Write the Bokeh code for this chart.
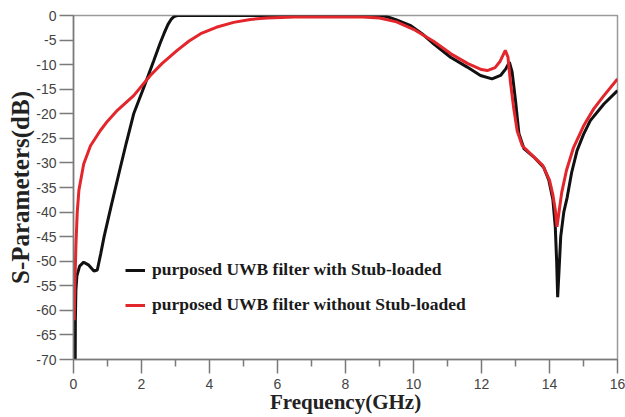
from bokeh.plotting import figure
from bokeh.models import Range1d, Legend, LegendItem, FixedTicker, Title, CustomJSTickFormatter
from bokeh.embed import file_html
from bokeh.resources import INLINE

# Black: purposed UWB filter with Stub-loaded
freq_with = [0.05, 0.055, 0.07, 0.1, 0.18, 0.3, 0.45, 0.6, 0.7, 0.8, 0.9, 1.0, 1.1, 1.33, 1.55, 1.77,
             2.07, 2.36, 2.55, 2.66, 2.78, 2.87, 2.96, 3.05, 4.0, 6.0, 8.0, 9.0, 9.2, 9.5, 9.9, 10.25,
             10.6, 11.09, 11.58, 11.97, 12.31, 12.56, 12.72, 12.82, 12.9, 13.0, 13.1, 13.25, 13.54,
             13.83, 13.98, 14.1, 14.17, 14.21, 14.24, 14.28, 14.33, 14.42, 14.52, 14.65, 14.81, 15.0,
             15.2, 15.6, 16.0]
db_with = [-70, -62, -56, -53, -51, -50.2, -50.8, -52, -51.8, -48.5, -45, -42, -39, -32.3, -26, -20,
           -14.6, -9.2, -5.6, -3.7, -1.8, -0.8, -0.2, 0, 0, 0, 0, 0, -0.2, -0.9, -2.0, -3.7,
           -5.8, -8.5, -10.5, -12.2, -12.9, -12.2, -10.8, -9.5, -11.5, -17.3, -24, -27.1, -28.8,
           -30.9, -33.5, -37.5, -43, -50, -57.3, -52, -45, -40, -37, -32, -27.5, -24.2,
           -21.4, -18, -15.3]

# Red: purposed UWB filter without Stub-loaded
freq_without = [0.02, 0.04, 0.07, 0.11, 0.16, 0.3, 0.5, 0.79, 1.0, 1.29, 1.77, 2.26, 2.6, 3.05, 3.4,
                3.74, 4.2, 4.71, 5.2, 5.7, 6.5, 8.5, 9.0, 9.5, 10.0, 10.6, 11.1, 11.6, 12.0, 12.17,
                12.4, 12.55, 12.7, 12.78, 12.85, 12.95, 13.05, 13.2, 13.5, 13.8, 14.0, 14.1, 14.17,
                14.22, 14.28, 14.36, 14.5, 14.7, 15.0, 15.3, 15.6, 16.0]
db_without = [-62, -55, -47, -40, -35.5, -30.2, -26.5, -23.4, -21.5, -19.3, -16.3, -12.2, -9.8, -7.1,
              -5.2, -3.7, -2.4, -1.4, -0.8, -0.5, -0.3, -0.3, -0.5, -1.3, -2.8, -5.3, -7.8, -9.8,
              -11.0, -11.2, -10.6, -9.3, -7.1, -8.5, -13.5, -19, -23.5, -26.5, -28.5, -30.5, -33.5,
              -36.5, -39.5, -43, -40, -36, -31.5, -27, -22.5, -19, -16.3, -12.9]

x_ticks = [0, 2, 4, 6, 8, 10, 12, 14, 16]
x_minor = [1, 3, 5, 7, 9, 11, 13, 15]
y_ticks = [0, -5, -10, -15, -20, -25, -30, -35, -40, -45, -50, -55, -60, -65, -70]

series_labels = ["purposed UWB filter with Stub-loaded", "purposed UWB filter without Stub-loaded"]
x_title = "Frequency(GHz)"
y_title = "S-Parameters(dB)"

p = figure(width=625, height=417, output_backend="svg", toolbar_location=None,
           x_range=Range1d(0, 16), y_range=Range1d(-70, 0),
           min_border_left=73, min_border_top=15, min_border_right=8, min_border_bottom=58)

p.xgrid.visible = False
p.ygrid.visible = False
p.outline_line_color = "#9a9a9a"
p.outline_line_width = 1.5
p.background_fill_color = "white"
p.border_fill_color = "white"

l1 = p.line(freq_with, db_with, line_color="#111111", line_width=3)
l2 = p.line(freq_without, db_without, line_color="#e3262c", line_width=3)

p.xaxis.ticker = FixedTicker(ticks=x_ticks, minor_ticks=x_minor)
p.yaxis.ticker = FixedTicker(ticks=y_ticks)
p.xaxis.formatter = CustomJSTickFormatter(code="return String(tick);")
p.yaxis.formatter = CustomJSTickFormatter(code="return String(tick);")

for ax in (p.xaxis[0], p.yaxis[0]):
    ax.axis_line_color = "#7a7a7a"
    ax.axis_line_width = 1.5
    ax.major_tick_line_color = "#7a7a7a"
    ax.minor_tick_line_color = "#7a7a7a"
    ax.major_tick_line_width = 1.5
    ax.minor_tick_line_width = 1.5
    ax.major_tick_out = 14
    ax.major_tick_in = 0
    ax.minor_tick_out = 7
    ax.minor_tick_in = 0
    ax.major_label_text_font = "Liberation Sans"
    ax.major_label_text_font_size = "14px"
    ax.major_label_text_color = "#444444"

p.yaxis.minor_tick_line_color = None
p.xaxis.major_label_standoff = 5
p.yaxis.major_label_standoff = 3

p.xaxis.axis_label = x_title
p.xaxis.axis_label_text_font = "Liberation Serif"
p.xaxis.axis_label_text_font_style = "bold"
p.xaxis.axis_label_text_font_size = "21px"
p.xaxis.axis_label_text_color = "#222222"
p.xaxis.axis_label_standoff = -2

ytitle = Title(text=y_title, align="center", standoff=0,
               text_font="Liberation Serif", text_font_style="bold", text_font_size="25px",
               text_color="#222222")
p.add_layout(ytitle, "left")

legend = Legend(items=[
    LegendItem(label=series_labels[0], renderers=[l1]),
    LegendItem(label=series_labels[1], renderers=[l2]),
], location=(52, 44))
legend.border_line_color = None
legend.background_fill_alpha = 0
legend.label_text_font = "Liberation Serif"
legend.label_text_font_style = "bold"
legend.label_text_font_size = "17.5px"
legend.label_text_color = "#1a1a1a"
legend.glyph_width = 20
legend.label_standoff = 7
legend.spacing = 14
legend.padding = 0
legend.margin = 0
legend.label_height = 20
p.add_layout(legend)

open("out.html", "w").write(file_html(p, INLINE))
